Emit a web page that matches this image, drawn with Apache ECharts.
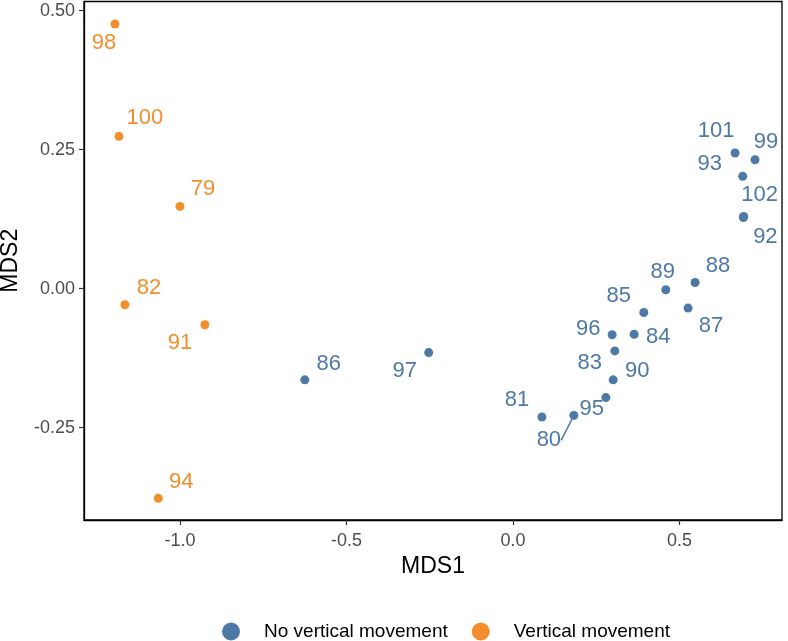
<!DOCTYPE html>
<html>
<head>
<meta charset="utf-8">
<script src="https://cdn.jsdelivr.net/npm/echarts@6/dist/echarts.min.js"></script>
<style>
html,body{margin:0;padding:0;background:#fff;}
#chart{width:788px;height:641px;}
</style>
</head>
<body>
<div id="chart"></div>
<script>
// ---- data ----
const noVertIds  = ['86','97','81','80','95','90','83','96','84','85','89','88','87','101','99','93','102','92'];
const noVertMDS1 = [-0.625,-0.253,0.087,0.183,0.279,0.301,0.306,0.298,0.364,0.393,0.459,0.547,0.526,0.667,0.727,0.690,0.693,0.692];
const noVertMDS2 = [-0.164,-0.115,-0.231,-0.228,-0.196,-0.164,-0.112,-0.083,-0.082,-0.043,-0.002,0.011,-0.035,0.244,0.232,0.202,0.130,0.128];

const vertIds  = ['98','100','79','82','91','94'];
const vertMDS1 = [-1.195,-1.183,-1.000,-1.165,-0.925,-1.065];
const vertMDS2 = [0.476,0.274,0.148,-0.029,-0.065,-0.377];

const groupNames = ['No vertical movement','Vertical movement'];
const xTicks = [-1.0,-0.5,0.0,0.5];
const yTicks = [-0.25,0.00,0.25,0.50];

// ---- label placement (repelled text offsets, px) ----
const labelNudge = {
  '98':[-11,19],'100':[26,-18],'79':[23,-17],'82':[24,-17],'91':[-25,18],'94':[23,-16],
  '86':[24,-16],'97':[-24,18],'81':[-25,-17],'80':[-25,25],'95':[-14,11],'90':[24,-9],
  '83':[-25,12],'96':[-24,-6],'84':[24,3],'85':[-25,-17],'89':[-3,-18],'88':[23,-17],
  '87':[23,18],'101':[-19,-22],'99':[11,-18],'93':[-33,-12],'102':[16,-21],'92':[22,19]
};
const BLUE = '#4E79A7', ORANGE = '#F28E2B';
const FONT = '"Liberation Sans", Arial, sans-serif';

function mk(ids, xs, ys) {
  return ids.map((id, i) => {
    const d = {name: id, value: [xs[i], ys[i]]};
    if (id === '80') d.labelLine = {show: true};
    return d;
  });
}
function layoutFn(params) {
  const n = labelNudge[params.text] || [0,0];
  return {dx: n[0], dy: n[1]};
}
function seriesOf(name, ids, xs, ys, color) {
  return {
    name: name,
    type: 'scatter',
    symbol: 'circle',
    symbolSize: 9,
    itemStyle: {color: color, opacity: 1},
    data: mk(ids, xs, ys),
    label: {
      show: true,
      position: 'inside',
      formatter: '{b}',
      color: color,
      fontFamily: FONT,
      fontSize: 22
    },
    labelLine: {show: false, lineStyle: {color: color, width: 1.5}},
    labelLayout: layoutFn,
    emphasis: {disabled: true}
  };
}

const chart = echarts.init(document.getElementById('chart'), null, {renderer: 'canvas'});
chart.setOption({
  animation: false,
  backgroundColor: '#ffffff',
  grid: {left: 84, right: 6, top: 1.5, bottom: 121, show: true, borderColor: '#000', borderWidth: 1.3,
    containLabel: false, outerBoundsMode: 'none'},
  legend: {
    data: groupNames,
    top: 622,
    left: 222,
    icon: 'circle',
    itemWidth: 18,
    itemHeight: 18,
    itemGap: 24,
    padding: 0,
    textStyle: {fontFamily: FONT, fontSize: 19, color: '#000', padding: [0,0,0,19]}
  },
  xAxis: {
    type: 'value',
    min: -1.288, max: 0.808,
    name: 'MDS1', nameLocation: 'middle', nameGap: 32,
    nameTextStyle: {fontFamily: FONT, fontSize: 23, color: '#000'},
    splitLine: {show: false},
    axisLine: {show: true, onZero: false, lineStyle: {color: '#000', width: 1.3}},
    axisTick: {show: true, length: 5, lineStyle: {color: '#333', width: 1.2}, customValues: xTicks},
    axisLabel: {fontFamily: FONT, fontSize: 18, color: '#4D4D4D', margin: 12, customValues: xTicks,
      formatter: v => v.toFixed(1)}
  },
  yAxis: {
    type: 'value',
    min: -0.4162, max: 0.5166,
    name: 'MDS2', nameLocation: 'middle', nameGap: 62, nameRotate: 90,
    nameTextStyle: {fontFamily: FONT, fontSize: 23, color: '#000'},
    splitLine: {show: false},
    axisLine: {show: true, onZero: false, lineStyle: {color: '#000', width: 1.3}},
    axisTick: {show: true, length: 5, lineStyle: {color: '#333', width: 1.2}, customValues: yTicks},
    axisLabel: {fontFamily: FONT, fontSize: 18, color: '#4D4D4D', margin: 9, customValues: yTicks,
      formatter: v => v.toFixed(2)}
  },
  series: [
    seriesOf(groupNames[0], noVertIds, noVertMDS1, noVertMDS2, BLUE),
    seriesOf(groupNames[1], vertIds, vertMDS1, vertMDS2, ORANGE)
  ]
});
</script>
</body>
</html>
